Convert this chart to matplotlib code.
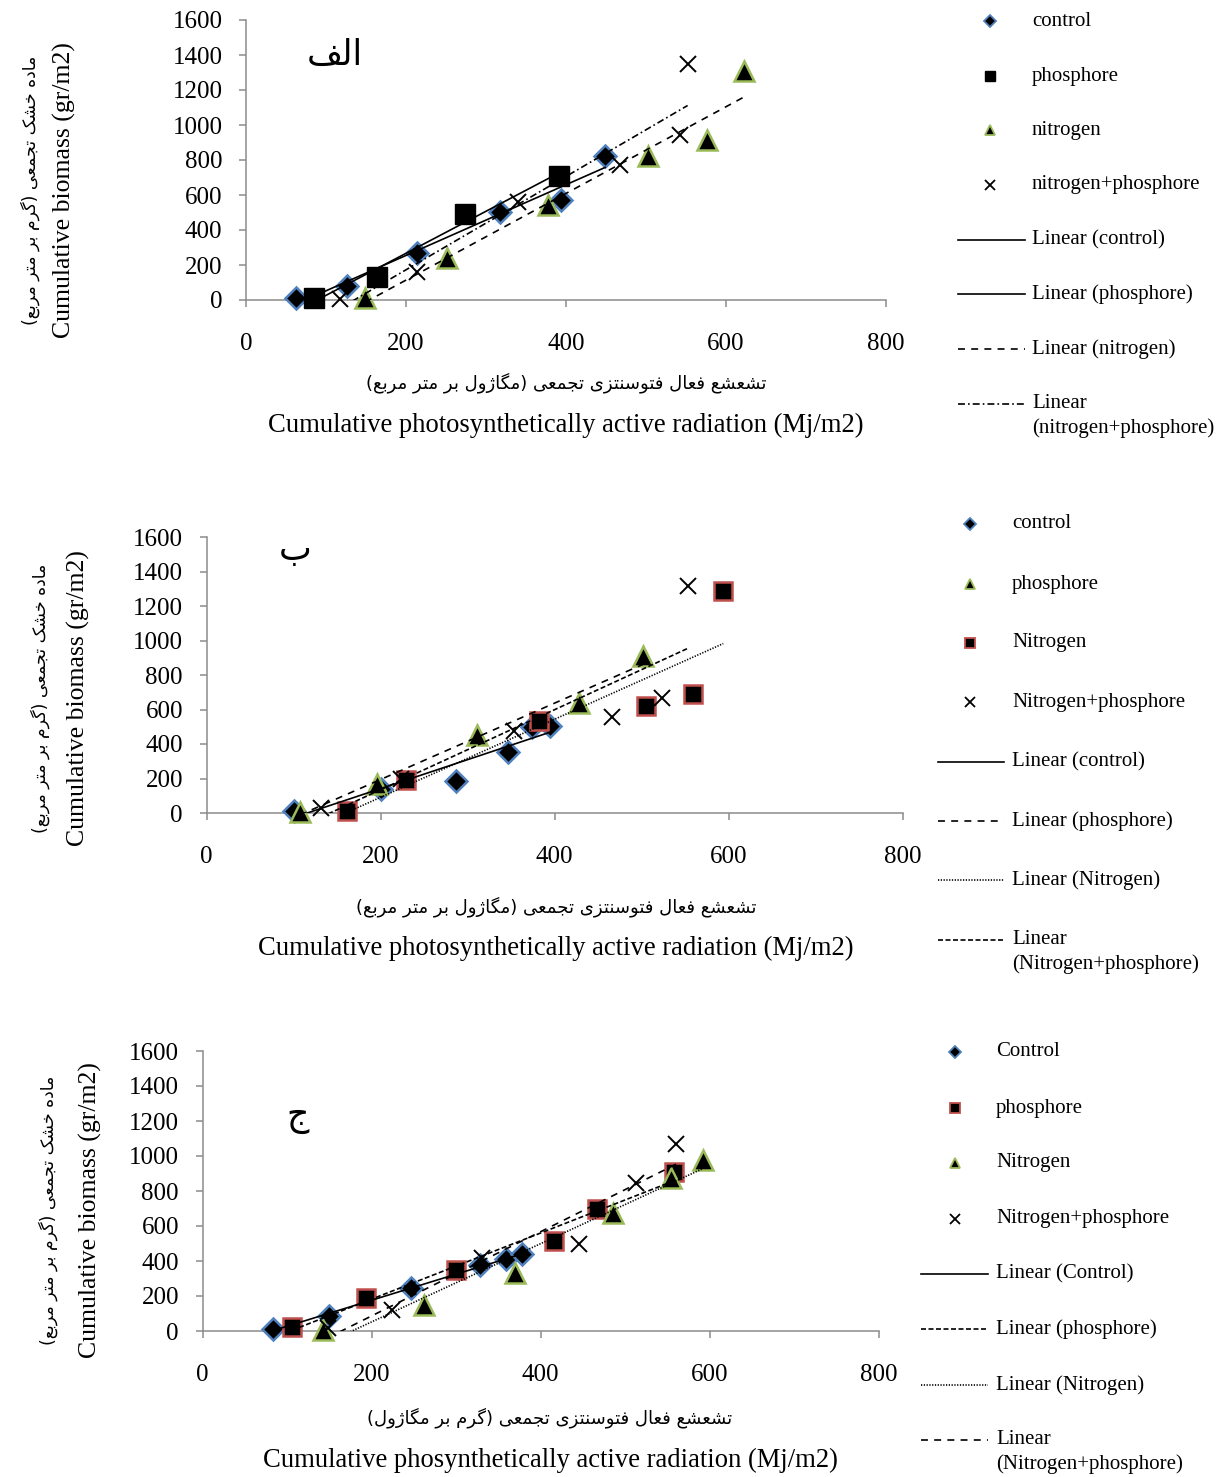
import numpy as np
import matplotlib
matplotlib.use("Agg")
import matplotlib.pyplot as plt

plt.rcParams["font.family"] = ["Liberation Serif", "DejaVu Sans"]
plt.rcParams["lines.scale_dashes"] = False

W, H = 1227, 1477

# ---------------- data ----------------
x_ticks = [0, 200, 400, 600, 800]
y_ticks = [0, 200, 400, 600, 800, 1000, 1200, 1400, 1600]

# panel A
a_control_x = [62, 126, 214, 318, 394, 449]
a_control_y = [13, 80, 267, 505, 571, 825]
a_phos_x = [85, 164, 274, 391]
a_phos_y = [10, 130, 491, 710]
a_nitro_x = [149, 251, 377, 503, 576, 622]
a_nitro_y = [13, 242, 543, 825, 914, 1310]
a_np_x = [117, 214, 340, 468, 543, 552]
a_np_y = [6, 162, 562, 771, 943, 1349]

# panel B
b_control_x = [100, 200, 287, 346, 374, 395]
b_control_y = [12, 141, 186, 351, 496, 504]
b_phos_x = [107, 196, 311, 428, 502]
b_phos_y = [6, 170, 451, 636, 911]
b_nitro_x = [162, 229, 382, 505, 559, 594]
b_nitro_y = [12, 190, 533, 620, 690, 1285]
b_np_x = [132, 223, 354, 466, 523, 554]
b_np_y = [31, 200, 477, 558, 665, 1318]

# panel C
c_control_x = [83, 150, 247, 328, 359, 378]
c_control_y = [13, 86, 244, 377, 409, 440]
c_phos_x = [106, 193, 300, 416, 466, 558]
c_phos_y = [25, 186, 348, 514, 700, 906]
c_nitro_x = [142, 262, 370, 485, 554, 592]
c_nitro_y = [6, 148, 329, 672, 877, 976]
c_np_x = [148, 224, 330, 445, 513, 560]
c_np_y = [20, 120, 415, 500, 847, 1071]

a_labels = ["control", "phosphore", "nitrogen", "nitrogen+phosphore"]
b_labels = ["control", "phosphore", "Nitrogen", "Nitrogen+phosphore"]
c_labels = ["Control", "phosphore", "Nitrogen", "Nitrogen+phosphore"]

# ---------------- Persian shaping ----------------
_FORMS = {
    "\u0627": ("\uFE8D", "\uFE8E", None, None),
    "\u0628": ("\uFE8F", "\uFE90", "\uFE91", "\uFE92"),
    "\u062A": ("\uFE95", "\uFE96", "\uFE97", "\uFE98"),
    "\u062C": ("\uFE9D", "\uFE9E", "\uFE9F", "\uFEA0"),
    "\u062E": ("\uFEA5", "\uFEA6", "\uFEA7", "\uFEA8"),
    "\u062F": ("\uFEA9", "\uFEAA", None, None),
    "\u0631": ("\uFEAD", "\uFEAE", None, None),
    "\u0632": ("\uFEAF", "\uFEB0", None, None),
    "\u0698": ("\uFB8A", "\uFB8B", None, None),
    "\u0633": ("\uFEB1", "\uFEB2", "\uFEB3", "\uFEB4"),
    "\u0634": ("\uFEB5", "\uFEB6", "\uFEB7", "\uFEB8"),
    "\u0639": ("\uFEC9", "\uFECA", "\uFECB", "\uFECC"),
    "\u0641": ("\uFED1", "\uFED2", "\uFED3", "\uFED4"),
    "\u0643": ("\uFED9", "\uFEDA", "\uFEDB", "\uFEDC"),
    "\u06A9": ("\uFB8E", "\uFB8F", "\uFB90", "\uFB91"),
    "\u06AF": ("\uFB92", "\uFB93", "\uFB94", "\uFB95"),
    "\u0644": ("\uFEDD", "\uFEDE", "\uFEDF", "\uFEE0"),
    "\u0645": ("\uFEE1", "\uFEE2", "\uFEE3", "\uFEE4"),
    "\u0646": ("\uFEE5", "\uFEE6", "\uFEE7", "\uFEE8"),
    "\u0647": ("\uFEE9", "\uFEEA", "\uFEEB", "\uFEEC"),
    "\u0648": ("\uFEED", "\uFEEE", None, None),
    "\u064A": ("\uFEF1", "\uFEF2", "\uFEF3", "\uFEF4"),
    "\u06CC": ("\uFBFC", "\uFBFD", "\uFBFE", "\uFBFF"),
}


def fa(text):
    """Join Persian letters into contextual forms and return visual order."""
    out = []
    for i, ch in enumerate(text):
        if ch not in _FORMS:
            out.append(ch)
            continue
        iso, fin, ini, med = _FORMS[ch]
        prev = text[i - 1] if i > 0 else None
        nxt = text[i + 1] if i + 1 < len(text) else None
        jp = prev in _FORMS and _FORMS[prev][2] is not None
        jn = ini is not None and nxt in _FORMS
        if jp and jn:
            out.append(med)
        elif jp:
            out.append(fin)
        elif jn:
            out.append(ini)
        else:
            out.append(iso)
    vis = "".join(reversed(out))
    return vis.translate(str.maketrans("()", ")("))


FA_FONT = "DejaVu Sans"
y_label_fa = "ماده خشک تجمعی (گرم بر متر مربع)"
x_label_fa_ab = "تشعشع فعال فتوسنتزی تجمعی (مگاژول بر متر مربع)"
x_label_fa_c = "تشعشع فعال فتوسنتزی تجمعی (گرم بر مگاژول)"
y_label_en = "Cumulative biomass (gr/m2)"
x_label_en_ab = "Cumulative photosynthetically active radiation (Mj/m2)"
x_label_en_c = "Cumulative phosynthetically active radiation (Mj/m2)"

# ---------------- styles ----------------
BLUE, RED, GREEN, GRAY = "#4F81BD", "#C0504D", "#9BBB59", "#8C8C8C"

MK = {
    "diamond": dict(marker="D", ms=11, mfc="black", mec=BLUE, mew=1.8),
    "sq_black": dict(marker="s", ms=14, mfc="black", mec="black", mew=1.0),
    "sq_red": dict(marker="s", ms=13, mfc="black", mec=RED, mew=1.8),
    "tri": dict(marker="^", ms=14, mfc="black", mec=GREEN, mew=1.8),
    "cross": dict(marker="x", ms=12, mfc="black", mec="black", mew=1.4),
}
SOLID = None
DASH = (5.0, 4.5)
FINE = (3.6, 1.8)
DOT = (0.9, 1.1)
DASHDOT = (5.0, 2.2, 1.2, 2.2)

fig = plt.figure(figsize=(W / 100, H / 100), dpi=100)


def fx(px):
    return px / W


def fy(py):
    return 1 - py / H


def make_axes(l, t, r, b):
    ax = fig.add_axes([fx(l), fy(b), fx(r) - fx(l), fy(t) - fy(b)])
    ax.set_xlim(0, 800)
    ax.set_ylim(0, 1600)
    ax.set_xticks(x_ticks)
    ax.set_yticks(y_ticks)
    for s in ("top", "right"):
        ax.spines[s].set_visible(False)
    for s in ("left", "bottom"):
        ax.spines[s].set_color(GRAY)
        ax.spines[s].set_linewidth(1.1)
    ax.tick_params(axis="both", direction="out", color=GRAY, width=1.1,
                   labelsize=18)
    ax.tick_params(axis="x", length=5, pad=19)
    ax.tick_params(axis="y", length=5, pad=12)
    return ax


def plot_panel(ax, series):
    for xs, ys, mk, dash in series:
        xs = np.asarray(xs, float)
        ys = np.asarray(ys, float)
        ax.plot(xs, ys, ls="none", clip_on=False, zorder=3, **MK[mk])
    for xs, ys, mk, dash in series:
        xs = np.asarray(xs, float)
        ys = np.asarray(ys, float)
        k, c0 = np.polyfit(xs, ys, 1)
        xx = np.array([xs.min(), xs.max()])
        ln, = ax.plot(xx, k * xx + c0, color="black", lw=1.2, zorder=4)
        if dash is not None:
            ln.set_dashes(dash)


# key axes in pixel coordinates
kax = fig.add_axes([0, 0, 1, 1])
kax.set_xlim(0, W)
kax.set_ylim(H, 0)
kax.axis("off")


def draw_key(mx, lx0, lx1, tx, rows, series, labels, lin_labels):
    for (xs, ys, mk, dash), y, lab in zip(series, rows[:4], labels):
        st = dict(MK[mk])
        st["ms"] = st["ms"] * 0.55
        st["mew"] = min(st["mew"], 1.3)
        kax.plot([mx], [y], ls="none", **st)
        kax.text(tx, y, lab, fontsize=15, va="center", ha="left")
    for (xs, ys, mk, dash), y, lab in zip(series, rows[4:], lin_labels):
        ln, = kax.plot([lx0, lx1], [y, y], color="black", lw=1.2)
        if dash is not None:
            ln.set_dashes(dash)
        lines = lab.split("\n")
        for j, part in enumerate(lines):
            kax.text(tx, y + 24 * j, part, fontsize=15, va="center", ha="left")


def axis_labels(ycx_fa, ycx_en, ycy, xcx, xcy_fa, xcy_en, xfa, xen):
    fig.text(fx(ycx_fa), fy(ycy), fa(y_label_fa), rotation=90, ha="center",
             va="center", fontsize=12.5, family=FA_FONT)
    fig.text(fx(ycx_en), fy(ycy), y_label_en, rotation=90, ha="center",
             va="center", fontsize=18.5)
    fig.text(fx(xcx), fy(xcy_fa), fa(xfa), ha="center", va="center",
             fontsize=13, family=FA_FONT)
    fig.text(fx(xcx), fy(xcy_en), xen, ha="center", va="center", fontsize=19.2)


# ---------------- panel A ----------------
axA = make_axes(246, 20, 886, 300)
ser_a = [
    (a_control_x, a_control_y, "diamond", SOLID),
    (a_phos_x, a_phos_y, "sq_black", SOLID),
    (a_nitro_x, a_nitro_y, "tri", DASH),
    (a_np_x, a_np_y, "cross", DASHDOT),
]
plot_panel(axA, ser_a)
fig.text(fx(335), fy(55), fa("الف"), ha="center", va="center", fontsize=25,
         family=FA_FONT)
axis_labels(30, 64, 190, 566, 383, 425, x_label_fa_ab, x_label_en_ab)
draw_key(990, 958, 1025, 1032, [21, 76, 130, 185, 240, 294, 349, 404], ser_a,
         a_labels, ["Linear (control)", "Linear (phosphore)",
                    "Linear (nitrogen)", "Linear\n(nitrogen+phosphore)"])

# ---------------- panel B ----------------
axB = make_axes(206.5, 537, 902.5, 813)
ser_b = [
    (b_control_x, b_control_y, "diamond", SOLID),
    (b_phos_x, b_phos_y, "tri", DASH),
    (b_nitro_x, b_nitro_y, "sq_red", DOT),
    (b_np_x, b_np_y, "cross", FINE),
]
plot_panel(axB, ser_b)
fig.text(fx(295), fy(550), fa("ب"), ha="center", va="center", fontsize=25,
         family=FA_FONT)
axis_labels(40, 78, 698, 556, 907, 948, x_label_fa_ab, x_label_en_ab)
draw_key(970, 938, 1004, 1012, [524, 584, 643, 702, 762, 821, 880, 940], ser_b,
         b_labels, ["Linear (control)", "Linear (phosphore)",
                    "Linear (Nitrogen)", "Linear\n(Nitrogen+phosphore)"])

# ---------------- panel C ----------------
axC = make_axes(202.5, 1051, 879, 1331)
ser_c = [
    (c_control_x, c_control_y, "diamond", SOLID),
    (c_phos_x, c_phos_y, "sq_red", FINE),
    (c_nitro_x, c_nitro_y, "tri", DOT),
    (c_np_x, c_np_y, "cross", DASH),
]
plot_panel(axC, ser_c)
fig.text(fx(298), fy(1117), fa("ج"), ha="center", va="center", fontsize=25,
         family=FA_FONT)
axis_labels(48, 90, 1210, 550, 1418, 1460, x_label_fa_c, x_label_en_c)
draw_key(955, 921, 988, 996, [1052, 1108, 1163, 1219, 1274, 1329, 1385, 1440],
         ser_c, c_labels, ["Linear (Control)", "Linear (phosphore)",
                           "Linear (Nitrogen)", "Linear\n(Nitrogen+phosphore)"])

fig.savefig("out.png", dpi=100)
